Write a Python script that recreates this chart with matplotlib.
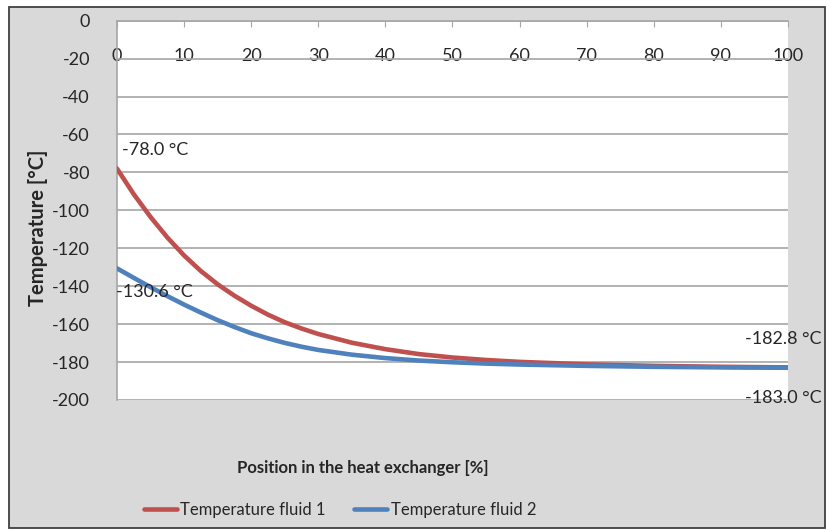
import matplotlib
matplotlib.use("Agg")
from matplotlib import pyplot as plt
from matplotlib.patches import Rectangle

plt.rcParams['font.family'] = ['Lato', 'DejaVu Sans']
plt.rcParams['axes.unicode_minus'] = False

# position in the heat exchanger [%]
pos = [0, 2.5, 5, 7.5, 10, 12.5, 15, 17.5, 20, 22.5, 25, 27.5, 30,
       35, 40, 45, 50, 55, 60, 70, 80, 90, 100]
# temperatures [°C]
fluid1 = [-78.0, -91.5, -103.5, -114.3, -123.8, -132.0, -139.0, -145.0, -150.3,
          -155.0, -159.0, -162.3, -165.2, -169.8, -173.2, -175.8, -177.6,
          -178.9, -179.9, -181.2, -182.0, -182.5, -182.8]
fluid2 = [-130.6, -135.6, -140.5, -145.2, -149.7, -153.9, -157.9, -161.5, -164.8,
          -167.5, -169.9, -171.9, -173.6, -176.1, -177.9, -179.2, -180.1,
          -180.8, -181.3, -182.0, -182.5, -182.8, -183.0]

xticks = list(range(0, 101, 10))
yticks = list(range(-200, 1, 20))

red = '#C0504D'
blue = '#4F81BD'
txt = '#262626'
fs = 12
fs_num = 13

fig = plt.figure(figsize=(8.29, 5.30), dpi=100)
fig.patch.set_facecolor('white')
fig.patches.append(Rectangle((9 / 829, 2 / 530), 816 / 829, 521 / 530,
                             transform=fig.transFigure, facecolor='#d9d9d9',
                             edgecolor='#404040', linewidth=1.3, zorder=-10))

ax = fig.add_axes([117 / 829, 1 - 400 / 530, 671 / 829, 379.3 / 530])
ax.set_facecolor('white')

ax.plot(pos, fluid1, color=red, linewidth=3.3, label='Temperature fluid 1',
        solid_capstyle='round', solid_joinstyle='round', zorder=3)
ax.plot(pos, fluid2, color=blue, linewidth=3.3, label='Temperature fluid 2',
        solid_capstyle='round', solid_joinstyle='round', zorder=3)

ax.set_xlim(0, 100)
ax.set_ylim(-200, 0)
ax.set_yticks(yticks)
ax.set_xticks(xticks)
ax.grid(axis='y', color='#a6a6a6', linewidth=1.2)
ax.set_axisbelow(True)

for s in ['right', 'bottom']:
    ax.spines[s].set_visible(False)
ax.spines['left'].set_color('#a6a6a6')
ax.spines['left'].set_linewidth(1.2)
ax.spines['top'].set_color('#a6a6a6')
ax.spines['top'].set_linewidth(1.2)

ax.tick_params(axis='y', left=False, pad=16, labelsize=fs_num, labelcolor=txt)
ax.tick_params(axis='x', top=True, bottom=False, labeltop=True, labelbottom=False,
               direction='in', length=4, color='#a6a6a6', pad=-31,
               labelsize=fs_num, labelcolor=txt)

ax.text(0.8, -68, '-78.0 °C', fontsize=fs_num, color=txt, va='center', ha='left')
ax.text(-0.2, -143, '-130.6 °C', fontsize=fs_num, color=txt, va='center', ha='left')
ax.text(105, -168, '-182.8 °C', fontsize=fs_num, color=txt, va='center', ha='right',
        clip_on=False)
ax.text(105, -199, '-183.0 °C', fontsize=fs_num, color=txt, va='center', ha='right',
        clip_on=False)

fig.text(38 / 829, 1 - 228 / 530, 'Temperature [°C]', rotation=90, fontsize=14.5,
         fontweight='bold', color=txt, ha='center', va='center')
fig.text(363 / 829, 1 - 468 / 530, 'Position in the heat exchanger [%]', fontsize=fs,
         fontweight='bold', color=txt, ha='center', va='center')

fig.legend(loc='center', bbox_to_anchor=(340 / 829, 1 - 510 / 530), ncol=2,
           frameon=False, fontsize=fs, handlelength=2.0, handletextpad=0.2,
           columnspacing=1.7, labelcolor=txt)

fig.savefig('out.png', dpi=100, facecolor=fig.get_facecolor())
